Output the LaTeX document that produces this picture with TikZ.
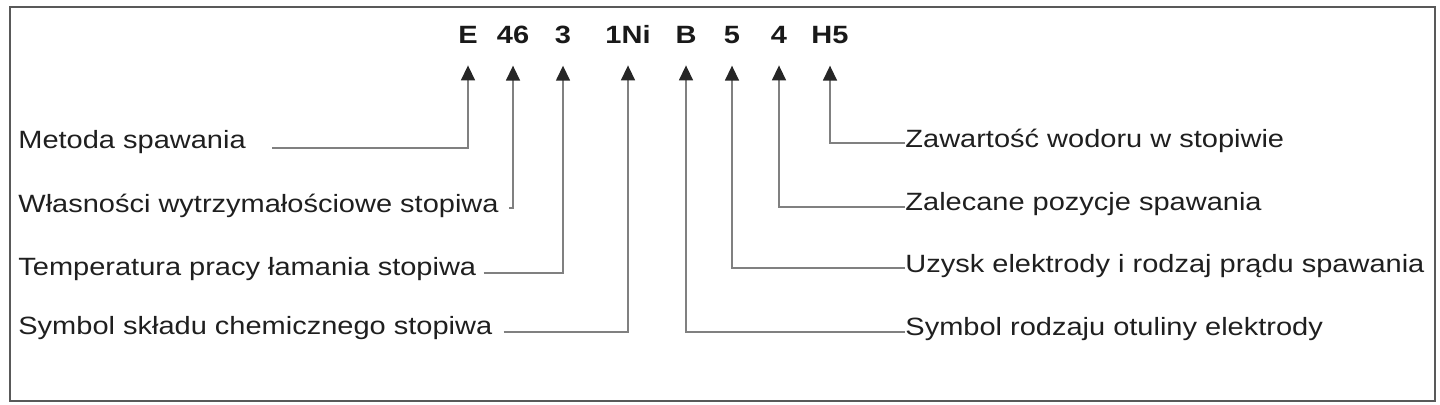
\documentclass[tikz,border=0pt]{standalone}
\usepackage{fontspec}
\setmainfont{Liberation Sans}[FakeStretch=1.16]
\usetikzlibrary{arrows.meta}

\begin{document}
\begin{tikzpicture}[x=0.5pt,y=-0.5pt,
  code/.style={font=\bfseries\fontsize{12.5}{15}\selectfont,text=black!90,inner sep=0pt,anchor=base},
  lbl/.style={font=\fontsize{12.5}{15}\selectfont,text=black!88,inner sep=0pt},
  conn/.style={draw=black!50,line width=0.75pt,-{Triangle[length=7.5pt,width=7pt,color=black!85]},shorten >=11pt}]
\useasboundingbox (0,0) rectangle (1440,404);
\draw[black!65,line width=1pt] (10,7) rectangle (1435,401);
% symbol of the electrode
\foreach \x/\n in {468/E,513/46,563/3,628/1Ni,686/B,732/5,779/4,830/H5} {
   \node[code] (c\n) at (\x,43) {\n};
}
% left hand descriptions
\foreach \n/\y/\g/\s/\t in %
{E/148/13/0/Metoda spawania,
 46/212/5/2/Własności wytrzymałościowe stopiwa,
 3/275/3.5/1/Temperatura pracy łamania stopiwa,
 1Ni/334/5.5/1/Symbol składu chemicznego stopiwa} {
   \node[lbl,anchor=base west] (l\n) at (18,\y) {\t};
   \draw[conn] ([xshift=\g pt,yshift=\s pt]l\n.base east) -| (c\n.south);
}
% right hand descriptions
\foreach \n/\y/\s/\t in %
{H5/147/2/Zawartość wodoru w stopiwie,
 4/210/1.5/Zalecane pozycje spawania,
 5/272/2/Uzysk elektrody i rodzaj prądu spawania,
 B/335/1.5/Symbol rodzaju otuliny elektrody} {
   \node[lbl,anchor=base west] (r\n) at (905,\y) {\t};
   \draw[conn] ([yshift=\s pt]r\n.base west) -| (c\n.south);
}
\end{tikzpicture}
\end{document}
